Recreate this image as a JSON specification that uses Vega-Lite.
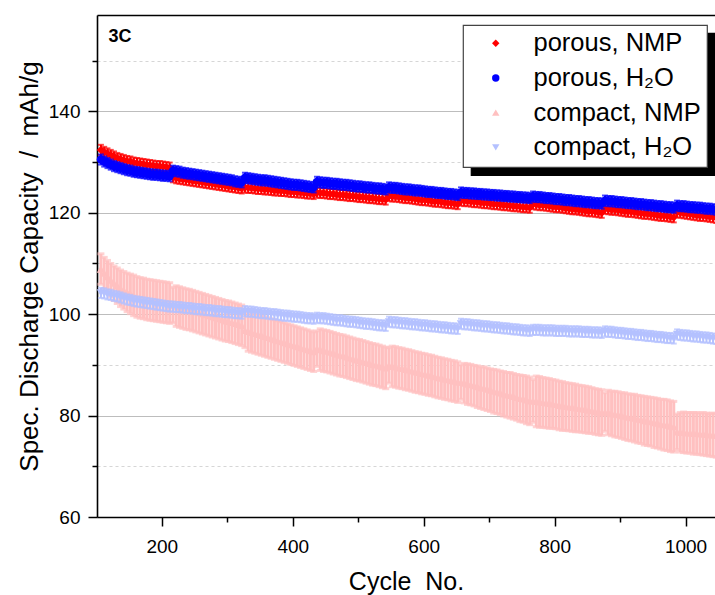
{
"$schema":"https://vega.github.io/schema/vega-lite/v6.json",
"width":618,"height":502,
"autosize":{"type":"none"},
"padding":{"left":97,"top":15,"right":0,"bottom":78},
"background":"white",
"config":{"view":{"stroke":null},"font":"Liberation Sans",
 "legend":{"orient":"none","labelFont":"Liberation Sans","labelFontSize":25.5,"labelColor":"black","labelLimit":400,"padding":5.5,"rowPadding":7.7,"symbolSize":55,"symbolStrokeWidth":0,"symbolOffset":14.5,"labelOffset":25,"strokeWidth":1.2}},
"data":{"values":[
{"c":107,"a":132.4,"b":130.5,"p":108.9,"pe":3.0,"q":104.2,"e":1},
{"c":112,"a":132.0,"b":130.1,"p":108.1,"pe":3.1,"q":104.1,"e":1},
{"c":117,"a":131.7,"b":129.8,"p":107.4,"pe":3.2,"q":103.9,"e":1},
{"c":122,"a":131.4,"b":129.5,"p":106.7,"pe":3.3,"q":103.8,"e":1},
{"c":127,"a":131.1,"b":129.2,"p":106.1,"pe":3.4,"q":103.6,"e":1},
{"c":132,"a":130.8,"b":129.0,"p":105.6,"pe":3.5,"q":103.5,"e":1},
{"c":137,"a":130.6,"b":128.8,"p":105.1,"pe":3.6,"q":103.3,"e":1},
{"c":142,"a":130.4,"b":128.6,"p":104.7,"pe":3.7,"q":103.1,"e":1},
{"c":147,"a":130.2,"b":128.4,"p":104.3,"pe":3.8,"q":102.9,"e":1},
{"c":152,"a":130.1,"b":128.3,"p":104.0,"pe":3.9,"q":102.8,"e":1},
{"c":157,"a":129.9,"b":128.1,"p":103.7,"pe":4.0,"q":102.6,"e":1},
{"c":162,"a":129.8,"b":128.0,"p":103.4,"pe":4.0,"q":102.5,"e":1},
{"c":167,"a":129.7,"b":127.9,"p":103.2,"pe":4.0,"q":102.4,"e":1},
{"c":172,"a":129.6,"b":127.8,"p":103.1,"pe":4.0,"q":102.3,"e":1},
{"c":177,"a":129.5,"b":127.7,"p":102.9,"pe":4.0,"q":102.2,"e":1},
{"c":182,"a":129.4,"b":127.6,"p":102.8,"pe":4.0,"q":102.1,"e":1},
{"c":187,"a":129.3,"b":127.5,"p":102.7,"pe":4.0,"q":102.0,"e":1},
{"c":192,"a":129.2,"b":127.5,"p":102.6,"pe":4.0,"q":101.9,"e":1},
{"c":197,"a":129.2,"b":127.4,"p":102.5,"pe":4.0,"q":101.8,"e":1},
{"c":202,"a":129.1,"b":127.3,"p":102.4,"pe":4.0,"q":101.7,"e":1},
{"c":207,"a":129.0,"b":127.3,"p":102.3,"pe":4.0,"q":101.6,"e":1},
{"c":212,"a":128.9,"b":127.2,"p":102.2,"pe":4.0,"q":101.5,"e":1},
{"c":217,"a":127.0,"b":128.3,"p":101.8,"pe":3.5,"q":101.5,"e":1},
{"c":222,"a":126.8,"b":128.2,"p":101.6,"pe":4.0,"q":101.4,"e":1},
{"c":227,"a":126.7,"b":128.1,"p":101.4,"pe":4.0,"q":101.4,"e":1},
{"c":232,"a":126.6,"b":127.9,"p":101.2,"pe":4.0,"q":101.3,"e":1},
{"c":237,"a":126.5,"b":127.8,"p":101.0,"pe":4.0,"q":101.2,"e":1},
{"c":242,"a":126.4,"b":127.7,"p":100.9,"pe":4.0,"q":101.2,"e":1},
{"c":247,"a":126.3,"b":127.6,"p":100.7,"pe":4.0,"q":101.1,"e":1},
{"c":252,"a":126.2,"b":127.5,"p":100.5,"pe":4.0,"q":101.0,"e":1},
{"c":257,"a":126.1,"b":127.4,"p":100.3,"pe":4.0,"q":101.0,"e":1},
{"c":262,"a":126.0,"b":127.3,"p":100.1,"pe":4.0,"q":100.9,"e":1},
{"c":267,"a":125.9,"b":127.2,"p":99.9,"pe":4.0,"q":100.8,"e":1},
{"c":272,"a":125.8,"b":127.1,"p":99.7,"pe":4.0,"q":100.8,"e":1},
{"c":277,"a":125.7,"b":127.0,"p":99.5,"pe":4.0,"q":100.7,"e":1},
{"c":282,"a":125.6,"b":126.9,"p":99.3,"pe":4.0,"q":100.6,"e":1},
{"c":287,"a":125.5,"b":126.8,"p":99.1,"pe":4.0,"q":100.6,"e":1},
{"c":292,"a":125.4,"b":126.7,"p":98.9,"pe":4.0,"q":100.5,"e":1},
{"c":297,"a":125.3,"b":126.6,"p":98.7,"pe":4.0,"q":100.4,"e":1},
{"c":302,"a":125.2,"b":126.5,"p":98.6,"pe":4.0,"q":100.4,"e":1},
{"c":307,"a":125.1,"b":126.4,"p":98.4,"pe":4.0,"q":100.3,"e":1},
{"c":312,"a":125.0,"b":126.2,"p":98.2,"pe":4.0,"q":100.2,"e":1},
{"c":317,"a":124.9,"b":126.1,"p":98.0,"pe":4.0,"q":100.2,"e":1},
{"c":322,"a":124.8,"b":126.0,"p":97.8,"pe":4.0,"q":100.1,"e":1},
{"c":327,"a":125.0,"b":126.9,"p":96.8,"pe":3.4,"q":100.6,"e":1},
{"c":332,"a":124.9,"b":126.8,"p":96.6,"pe":3.9,"q":100.5,"e":1},
{"c":337,"a":124.9,"b":126.7,"p":96.4,"pe":3.9,"q":100.5,"e":1},
{"c":342,"a":124.8,"b":126.6,"p":96.2,"pe":3.9,"q":100.4,"e":1},
{"c":347,"a":124.7,"b":126.5,"p":96.0,"pe":3.9,"q":100.3,"e":1},
{"c":352,"a":124.7,"b":126.4,"p":95.8,"pe":3.9,"q":100.2,"e":1},
{"c":357,"a":124.6,"b":126.4,"p":95.6,"pe":3.9,"q":100.2,"e":1},
{"c":362,"a":124.6,"b":126.3,"p":95.4,"pe":3.9,"q":100.1,"e":1},
{"c":367,"a":124.5,"b":126.2,"p":95.2,"pe":3.9,"q":100.0,"e":1},
{"c":372,"a":124.4,"b":126.1,"p":95.0,"pe":3.9,"q":100.0,"e":1},
{"c":377,"a":124.4,"b":126.0,"p":94.8,"pe":3.9,"q":99.9,"e":1},
{"c":382,"a":124.3,"b":125.9,"p":94.6,"pe":3.9,"q":99.8,"e":1},
{"c":387,"a":124.3,"b":125.8,"p":94.4,"pe":3.9,"q":99.7,"e":1},
{"c":392,"a":124.2,"b":125.7,"p":94.2,"pe":3.9,"q":99.7,"e":1},
{"c":397,"a":124.1,"b":125.6,"p":94.0,"pe":3.9,"q":99.6,"e":1},
{"c":402,"a":124.1,"b":125.5,"p":93.8,"pe":3.9,"q":99.5,"e":1},
{"c":407,"a":124.0,"b":125.5,"p":93.6,"pe":3.9,"q":99.5,"e":1},
{"c":412,"a":124.0,"b":125.4,"p":93.4,"pe":3.9,"q":99.4,"e":1},
{"c":417,"a":123.9,"b":125.3,"p":93.2,"pe":3.9,"q":99.3,"e":1},
{"c":422,"a":123.8,"b":125.2,"p":93.0,"pe":3.9,"q":99.2,"e":1},
{"c":427,"a":123.8,"b":125.1,"p":92.8,"pe":3.9,"q":99.2,"e":1},
{"c":432,"a":123.7,"b":125.0,"p":92.6,"pe":3.9,"q":99.1,"e":1},
{"c":437,"a":124.0,"b":126.1,"p":93.2,"pe":3.5,"q":99.3,"e":1},
{"c":442,"a":123.9,"b":126.0,"p":93.0,"pe":4.1,"q":99.2,"e":1},
{"c":447,"a":123.9,"b":125.9,"p":92.8,"pe":4.1,"q":99.2,"e":1},
{"c":452,"a":123.8,"b":125.9,"p":92.7,"pe":4.1,"q":99.1,"e":1},
{"c":457,"a":123.7,"b":125.8,"p":92.5,"pe":4.1,"q":99.0,"e":1},
{"c":462,"a":123.7,"b":125.7,"p":92.3,"pe":4.1,"q":98.9,"e":1},
{"c":467,"a":123.6,"b":125.7,"p":92.1,"pe":4.1,"q":98.8,"e":1},
{"c":472,"a":123.5,"b":125.6,"p":91.9,"pe":4.1,"q":98.8,"e":1},
{"c":477,"a":123.5,"b":125.5,"p":91.8,"pe":4.1,"q":98.7,"e":1},
{"c":482,"a":123.4,"b":125.5,"p":91.6,"pe":4.1,"q":98.6,"e":1},
{"c":487,"a":123.3,"b":125.4,"p":91.4,"pe":4.1,"q":98.5,"e":1},
{"c":492,"a":123.3,"b":125.3,"p":91.2,"pe":4.1,"q":98.5,"e":1},
{"c":497,"a":123.2,"b":125.2,"p":91.0,"pe":4.1,"q":98.4,"e":1},
{"c":502,"a":123.1,"b":125.2,"p":90.9,"pe":4.1,"q":98.3,"e":1},
{"c":507,"a":123.1,"b":125.1,"p":90.7,"pe":4.1,"q":98.2,"e":1},
{"c":512,"a":123.0,"b":125.0,"p":90.5,"pe":4.1,"q":98.1,"e":1},
{"c":517,"a":122.9,"b":125.0,"p":90.3,"pe":4.1,"q":98.1,"e":1},
{"c":522,"a":122.9,"b":124.9,"p":90.1,"pe":4.1,"q":98.0,"e":1},
{"c":527,"a":122.8,"b":124.8,"p":90.0,"pe":4.1,"q":97.9,"e":1},
{"c":532,"a":122.7,"b":124.8,"p":89.8,"pe":4.1,"q":97.8,"e":1},
{"c":537,"a":122.7,"b":124.7,"p":89.6,"pe":4.1,"q":97.8,"e":1},
{"c":542,"a":122.6,"b":124.6,"p":89.4,"pe":4.1,"q":97.7,"e":1},
{"c":547,"a":123.3,"b":125.0,"p":89.9,"pe":3.5,"q":98.5,"e":1},
{"c":552,"a":123.2,"b":124.9,"p":89.7,"pe":4.0,"q":98.4,"e":1},
{"c":557,"a":123.2,"b":124.9,"p":89.6,"pe":4.0,"q":98.4,"e":1},
{"c":562,"a":123.1,"b":124.8,"p":89.4,"pe":4.0,"q":98.3,"e":1},
{"c":567,"a":123.0,"b":124.7,"p":89.3,"pe":4.0,"q":98.2,"e":1},
{"c":572,"a":122.9,"b":124.6,"p":89.1,"pe":4.0,"q":98.2,"e":1},
{"c":577,"a":122.9,"b":124.6,"p":89.0,"pe":4.0,"q":98.1,"e":1},
{"c":582,"a":122.8,"b":124.5,"p":88.8,"pe":4.0,"q":98.0,"e":1},
{"c":587,"a":122.7,"b":124.4,"p":88.6,"pe":4.0,"q":98.0,"e":1},
{"c":592,"a":122.6,"b":124.4,"p":88.5,"pe":4.0,"q":97.9,"e":1},
{"c":597,"a":122.5,"b":124.3,"p":88.3,"pe":4.0,"q":97.8,"e":1},
{"c":602,"a":122.5,"b":124.2,"p":88.2,"pe":4.0,"q":97.8,"e":1},
{"c":607,"a":122.4,"b":124.1,"p":88.0,"pe":4.0,"q":97.7,"e":1},
{"c":612,"a":122.3,"b":124.1,"p":87.9,"pe":4.0,"q":97.6,"e":1},
{"c":617,"a":122.2,"b":124.0,"p":87.7,"pe":4.0,"q":97.6,"e":1},
{"c":622,"a":122.2,"b":123.9,"p":87.5,"pe":4.0,"q":97.5,"e":1},
{"c":627,"a":122.1,"b":123.9,"p":87.4,"pe":4.0,"q":97.4,"e":1},
{"c":632,"a":122.0,"b":123.8,"p":87.2,"pe":4.0,"q":97.4,"e":1},
{"c":637,"a":121.9,"b":123.7,"p":87.1,"pe":4.0,"q":97.3,"e":1},
{"c":642,"a":121.9,"b":123.7,"p":86.9,"pe":4.0,"q":97.2,"e":1},
{"c":647,"a":121.8,"b":123.6,"p":86.8,"pe":4.0,"q":97.2,"e":1},
{"c":652,"a":121.7,"b":123.5,"p":86.6,"pe":4.0,"q":97.1,"e":1},
{"c":657,"a":122.4,"b":124.0,"p":86.6,"pe":3.4,"q":98.1,"e":1},
{"c":662,"a":122.3,"b":123.9,"p":86.4,"pe":3.9,"q":98.0,"e":1},
{"c":667,"a":122.3,"b":123.9,"p":86.2,"pe":4.0,"q":98.0,"e":1},
{"c":672,"a":122.2,"b":123.8,"p":86.1,"pe":4.0,"q":97.9,"e":1},
{"c":677,"a":122.1,"b":123.8,"p":85.9,"pe":4.0,"q":97.8,"e":1},
{"c":682,"a":122.1,"b":123.7,"p":85.7,"pe":4.1,"q":97.8,"e":1},
{"c":687,"a":122.0,"b":123.7,"p":85.5,"pe":4.1,"q":97.7,"e":1},
{"c":692,"a":121.9,"b":123.6,"p":85.4,"pe":4.2,"q":97.6,"e":1},
{"c":697,"a":121.9,"b":123.6,"p":85.2,"pe":4.2,"q":97.6,"e":1},
{"c":702,"a":121.8,"b":123.5,"p":85.0,"pe":4.2,"q":97.5,"e":1},
{"c":707,"a":121.7,"b":123.5,"p":84.8,"pe":4.3,"q":97.4,"e":1},
{"c":712,"a":121.7,"b":123.4,"p":84.7,"pe":4.3,"q":97.4,"e":1},
{"c":717,"a":121.6,"b":123.4,"p":84.5,"pe":4.3,"q":97.3,"e":1},
{"c":722,"a":121.5,"b":123.3,"p":84.3,"pe":4.4,"q":97.2,"e":1},
{"c":727,"a":121.5,"b":123.3,"p":84.1,"pe":4.4,"q":97.2,"e":1},
{"c":732,"a":121.4,"b":123.2,"p":84.0,"pe":4.5,"q":97.1,"e":1},
{"c":737,"a":121.3,"b":123.2,"p":83.8,"pe":4.5,"q":97.0,"e":1},
{"c":742,"a":121.3,"b":123.1,"p":83.6,"pe":4.5,"q":97.0,"e":1},
{"c":747,"a":121.2,"b":123.1,"p":83.4,"pe":4.6,"q":96.9,"e":1},
{"c":752,"a":121.1,"b":123.0,"p":83.3,"pe":4.6,"q":96.8,"e":1},
{"c":757,"a":121.1,"b":123.0,"p":83.1,"pe":4.7,"q":96.8,"e":1},
{"c":762,"a":121.0,"b":122.9,"p":82.9,"pe":4.7,"q":96.7,"e":1},
{"c":767,"a":121.7,"b":123.2,"p":82.9,"pe":4.2,"q":96.9,"e":1},
{"c":772,"a":121.6,"b":123.1,"p":82.8,"pe":5.0,"q":96.9,"e":1},
{"c":777,"a":121.5,"b":123.1,"p":82.7,"pe":5.0,"q":96.9,"e":1},
{"c":782,"a":121.5,"b":123.0,"p":82.6,"pe":4.9,"q":96.8,"e":1},
{"c":787,"a":121.4,"b":122.9,"p":82.5,"pe":4.9,"q":96.8,"e":1},
{"c":792,"a":121.3,"b":122.9,"p":82.4,"pe":4.9,"q":96.8,"e":1},
{"c":797,"a":121.2,"b":122.8,"p":82.3,"pe":4.8,"q":96.8,"e":1},
{"c":802,"a":121.1,"b":122.7,"p":82.2,"pe":4.8,"q":96.7,"e":1},
{"c":807,"a":121.1,"b":122.7,"p":82.0,"pe":4.8,"q":96.7,"e":1},
{"c":812,"a":121.0,"b":122.6,"p":81.9,"pe":4.8,"q":96.7,"e":1},
{"c":817,"a":120.9,"b":122.5,"p":81.8,"pe":4.7,"q":96.7,"e":1},
{"c":822,"a":120.8,"b":122.5,"p":81.7,"pe":4.7,"q":96.6,"e":1},
{"c":827,"a":120.7,"b":122.4,"p":81.6,"pe":4.7,"q":96.6,"e":1},
{"c":832,"a":120.7,"b":122.3,"p":81.5,"pe":4.7,"q":96.6,"e":1},
{"c":837,"a":120.6,"b":122.3,"p":81.4,"pe":4.6,"q":96.6,"e":1},
{"c":842,"a":120.5,"b":122.2,"p":81.3,"pe":4.6,"q":96.5,"e":1},
{"c":847,"a":120.4,"b":122.1,"p":81.2,"pe":4.6,"q":96.5,"e":1},
{"c":852,"a":120.3,"b":122.1,"p":81.1,"pe":4.6,"q":96.5,"e":1},
{"c":857,"a":120.3,"b":122.0,"p":81.0,"pe":4.5,"q":96.4,"e":1},
{"c":862,"a":120.2,"b":121.9,"p":80.8,"pe":4.5,"q":96.4,"e":1},
{"c":867,"a":120.1,"b":121.9,"p":80.7,"pe":4.5,"q":96.4,"e":1},
{"c":872,"a":120.0,"b":121.8,"p":80.6,"pe":4.5,"q":96.3,"e":1},
{"c":877,"a":120.8,"b":122.4,"p":80.7,"pe":3.8,"q":96.6,"e":1},
{"c":882,"a":120.7,"b":122.3,"p":80.6,"pe":4.4,"q":96.5,"e":1},
{"c":887,"a":120.6,"b":122.3,"p":80.4,"pe":4.4,"q":96.5,"e":1},
{"c":892,"a":120.6,"b":122.2,"p":80.3,"pe":4.5,"q":96.4,"e":1},
{"c":897,"a":120.5,"b":122.1,"p":80.2,"pe":4.5,"q":96.3,"e":1},
{"c":902,"a":120.4,"b":122.1,"p":80.0,"pe":4.5,"q":96.3,"e":1},
{"c":907,"a":120.3,"b":122.0,"p":79.9,"pe":4.6,"q":96.2,"e":1},
{"c":912,"a":120.2,"b":121.9,"p":79.7,"pe":4.6,"q":96.1,"e":1},
{"c":917,"a":120.2,"b":121.9,"p":79.6,"pe":4.6,"q":96.1,"e":1},
{"c":922,"a":120.1,"b":121.8,"p":79.5,"pe":4.7,"q":96.0,"e":1},
{"c":927,"a":120.0,"b":121.7,"p":79.3,"pe":4.7,"q":95.9,"e":1},
{"c":932,"a":119.9,"b":121.7,"p":79.2,"pe":4.7,"q":95.9,"e":1},
{"c":937,"a":119.8,"b":121.6,"p":79.0,"pe":4.8,"q":95.8,"e":1},
{"c":942,"a":119.8,"b":121.5,"p":78.9,"pe":4.8,"q":95.7,"e":1},
{"c":947,"a":119.7,"b":121.5,"p":78.8,"pe":4.8,"q":95.7,"e":1},
{"c":952,"a":119.6,"b":121.4,"p":78.6,"pe":4.9,"q":95.6,"e":1},
{"c":957,"a":119.5,"b":121.3,"p":78.5,"pe":4.9,"q":95.5,"e":1},
{"c":962,"a":119.4,"b":121.3,"p":78.3,"pe":4.9,"q":95.5,"e":1},
{"c":967,"a":119.4,"b":121.2,"p":78.2,"pe":5.0,"q":95.4,"e":1},
{"c":972,"a":119.3,"b":121.1,"p":78.1,"pe":5.0,"q":95.3,"e":1},
{"c":977,"a":119.2,"b":121.1,"p":77.9,"pe":5.0,"q":95.3,"e":1},
{"c":982,"a":119.1,"b":121.0,"p":77.8,"pe":5.0,"q":95.2,"e":1},
{"c":987,"a":120.1,"b":121.4,"p":76.8,"pe":3.5,"q":96.0,"e":1},
{"c":992,"a":120.0,"b":121.3,"p":76.7,"pe":3.9,"q":95.9,"e":1},
{"c":997,"a":119.9,"b":121.3,"p":76.7,"pe":4.0,"q":95.8,"e":1},
{"c":1002,"a":119.8,"b":121.2,"p":76.6,"pe":4.0,"q":95.8,"e":1},
{"c":1007,"a":119.7,"b":121.1,"p":76.6,"pe":4.0,"q":95.7,"e":1},
{"c":1012,"a":119.6,"b":121.1,"p":76.5,"pe":4.1,"q":95.6,"e":1},
{"c":1017,"a":119.5,"b":121.0,"p":76.5,"pe":4.1,"q":95.6,"e":1},
{"c":1022,"a":119.4,"b":121.0,"p":76.4,"pe":4.1,"q":95.5,"e":1},
{"c":1027,"a":119.4,"b":120.9,"p":76.4,"pe":4.2,"q":95.4,"e":1},
{"c":1032,"a":119.3,"b":120.8,"p":76.3,"pe":4.2,"q":95.4,"e":1},
{"c":1037,"a":119.2,"b":120.8,"p":76.2,"pe":4.2,"q":95.3,"e":1},
{"c":1042,"a":119.1,"b":120.7,"p":76.2,"pe":4.3,"q":95.2,"e":1},
{"c":1047,"a":119.0,"b":120.6,"p":76.1,"pe":4.3,"q":95.1,"e":1}
]},
"layer":[
{
"encoding":{"x":{"field":"c","type":"quantitative","scale":{"domain":[101,1045],"nice":false,"zero":false},"title":"Cycle\u00a0 No.",
 "axis":{"values":[200,300,400,500,600,700,800,900,1000],"format":"d","labelExpr":"datum.value % 200 === 0 ? datum.label : ''","grid":false,
  "tickSize":{"condition":{"test":"datum.value % 200 === 0","value":9},"value":5},"tickWidth":1.5,"tickColor":"black","domainColor":"black","domainWidth":1.6,
  "labelFont":"Liberation Sans","labelFontSize":19,"labelColor":"black","labelPadding":11,"labelFlush":false,"labelOverlap":false,
  "titleFont":"Liberation Sans","titleFontSize":25,"titleFontWeight":"normal","titleColor":"black","titlePadding":13}}},
"layer":[
{"mark":{"type":"errorbar","ticks":{"size":6},"thickness":2},
 "encoding":{"y":{"field":"a","type":"quantitative","scale":{"domain":[60,159],"nice":false,"zero":false},"title":"Spec. Discharge Capacity\u00a0 /\u00a0 mAh/g",
  "axis":{"values":[60,70,80,90,100,110,120,130,140,150],"labelExpr":"datum.value % 20 === 0 ? datum.label : ''","grid":true,
   "gridColor":{"condition":{"test":"datum.value % 20 === 0","value":"#bdbdbd"},"value":"#d6d6d6"},
   "gridDash":{"condition":{"test":"datum.value % 20 === 0","value":[]},"value":[3,3]},"gridWidth":1.2,
   "tickSize":{"condition":{"test":"datum.value % 20 === 0","value":9},"value":5},"tickWidth":1.5,"tickColor":"black","domainColor":"black","domainWidth":1.6,
   "labelFont":"Liberation Sans","labelFontSize":19,"labelColor":"black","labelPadding":8,"labelOverlap":false,
   "titleFont":"Liberation Sans","titleFontSize":26,"titleFontWeight":"normal","titleColor":"black","titlePadding":6}},
  "yError":{"field":"e"},
  "color":{"value":"#ff0000"}}},
{"mark":{"type":"point","filled":true,"size":70,"opacity":1,"strokeWidth":0},
 "encoding":{"y":{"field":"a","type":"quantitative","scale":{"domain":[60,159],"nice":false,"zero":false},"title":"Spec. Discharge Capacity\u00a0 /\u00a0 mAh/g"},
  "color":{"datum":"porous, NMP","scale":{"domain":["porous, NMP","porous, H₂O","compact, NMP","compact, H₂O"],"range":["#ff0000","#0000ff","#ffc0c0","#b4c1ff"]},
   "legend":{"title":null,"legendX":366,"legendY":10,"fillColor":"white","strokeColor":"#444444","zindex":3,"symbolSize":55}},
  "shape":{"datum":"porous, NMP","scale":{"domain":["porous, NMP","porous, H₂O","compact, NMP","compact, H₂O"],"range":["diamond","circle","triangle-up","triangle-down"]},
   "legend":{"title":null,"legendX":366,"legendY":10,"fillColor":"white","strokeColor":"#444444","zindex":3,"symbolSize":55}}}},
{"mark":{"type":"errorbar","ticks":{"size":6},"thickness":2},
 "encoding":{"y":{"field":"b","type":"quantitative","scale":{"domain":[60,159],"nice":false,"zero":false},"title":"Spec. Discharge Capacity\u00a0 /\u00a0 mAh/g"},
  "yError":{"field":"e"},"color":{"value":"#0000ff"}}},
{"mark":{"type":"point","filled":true,"size":70,"opacity":1,"strokeWidth":0},
 "encoding":{"y":{"field":"b","type":"quantitative","scale":{"domain":[60,159],"nice":false,"zero":false},"title":"Spec. Discharge Capacity\u00a0 /\u00a0 mAh/g"},
  "color":{"datum":"porous, H₂O"},"shape":{"datum":"porous, H₂O"}}},
{"mark":{"type":"errorbar","ticks":{"size":7},"thickness":3},
 "encoding":{"y":{"field":"p","type":"quantitative","scale":{"domain":[60,159],"nice":false,"zero":false},"title":"Spec. Discharge Capacity\u00a0 /\u00a0 mAh/g"},
  "yError":{"field":"pe"},"color":{"value":"#ffc0c0"}}},
{"mark":{"type":"point","filled":true,"size":70,"opacity":1,"strokeWidth":0},
 "encoding":{"y":{"field":"p","type":"quantitative","scale":{"domain":[60,159],"nice":false,"zero":false},"title":"Spec. Discharge Capacity\u00a0 /\u00a0 mAh/g"},
  "color":{"datum":"compact, NMP"},"shape":{"datum":"compact, NMP"}}},
{"mark":{"type":"errorbar","ticks":{"size":6},"thickness":2},
 "encoding":{"y":{"field":"q","type":"quantitative","scale":{"domain":[60,159],"nice":false,"zero":false},"title":"Spec. Discharge Capacity\u00a0 /\u00a0 mAh/g"},
  "yError":{"field":"e"},"color":{"value":"#b4c1ff"}}},
{"mark":{"type":"point","filled":true,"size":70,"opacity":1,"strokeWidth":0},
 "encoding":{"y":{"field":"q","type":"quantitative","scale":{"domain":[60,159],"nice":false,"zero":false},"title":"Spec. Discharge Capacity\u00a0 /\u00a0 mAh/g"},
  "color":{"datum":"compact, H₂O"},"shape":{"datum":"compact, H₂O"}}}
]
},
{
"transform":[{"filter":"datum.c === 107"},{"fold":["a","b","p","q"],"as":["key","val"]}],
"mark":{"type":"point","filled":true,"opacity":0},
"encoding":{
 "x":{"field":"c","type":"quantitative","scale":{"domain":[101,1045],"nice":false,"zero":false},
  "axis":{"orient":"top","labels":false,"ticks":false,"grid":false,"domainColor":"black","domainWidth":1.6,
   "title":"3C","titleX":11,"titleY":26,"titleAlign":"left","titleAnchor":"start","titleAngle":0,"titleBaseline":"alphabetic","titleFont":"Liberation Sans","titleFontSize":18,"titleFontWeight":"bold","titleColor":"black"}},
 "y":{"field":"val","type":"quantitative","scale":{"domain":[60,159],"nice":false,"zero":false},"title":"Spec. Discharge Capacity\u00a0 /\u00a0 mAh/g"},
 "fill":{"field":"key","type":"nominal","scale":{"range":["black","black","black","black"]},
  "legend":{"title":null,"legendX":374,"legendY":18,"fillColor":"black","strokeColor":"black","labelColor":"black","zindex":0,"symbolSize":55,
   "labelExpr":"({'a':'porous, NMP','b':'porous, H₂O','p':'compact, NMP','q':'compact, H₂O'})[datum.label]"}}}
}
],
"resolve":{"axis":{"x":"independent"}}
}
